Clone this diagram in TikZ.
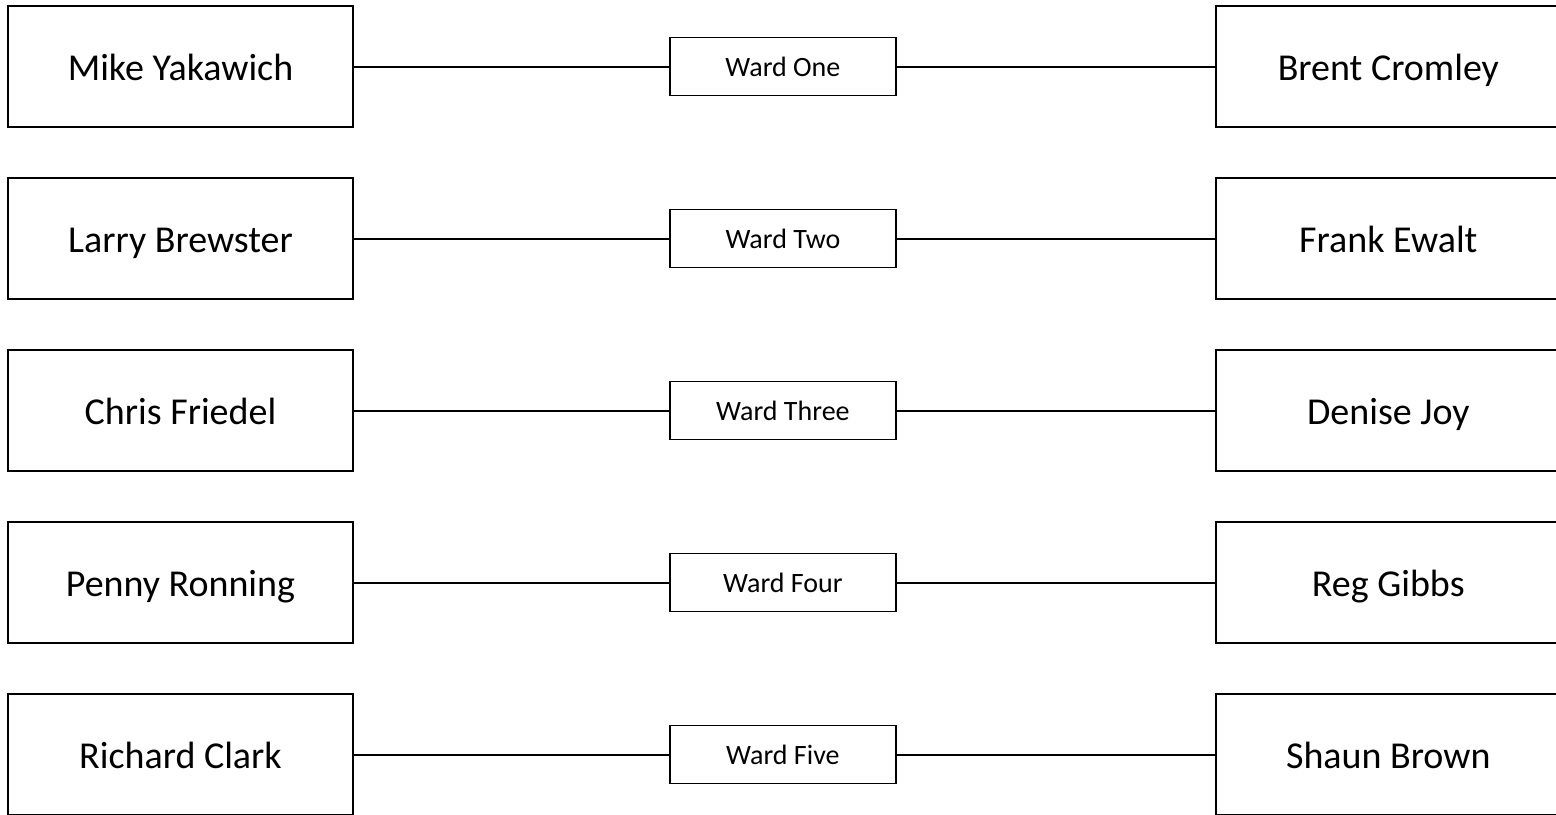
\documentclass[tikz,border=0pt]{standalone}
\usepackage{fontspec}
\setmainfont{Carlito}
\usetikzlibrary{positioning}

\tikzset{
  member/.style={draw, line width=1pt, minimum width=172.5pt, minimum height=60.5pt,
    inner sep=0pt, text height=16pt, text depth=2.5pt,
    font=\fontsize{19}{23}\selectfont},
  ward/.style={draw, line width=0.9pt, minimum width=113pt, minimum height=29pt,
    inner sep=0pt, text height=11pt, text depth=1pt,
    font=\fontsize{14}{17}\selectfont},
  link/.style={line width=1pt}
}

\begin{document}
\begin{tikzpicture}
  \useasboundingbox (0,0) rectangle (778pt,-407pt);

  % left column of members
  \node [member] (l1) at (90.25pt,-33.25pt) {Mike Yakawich};
  \node [member, below=24.5pt of l1] (l2) {Larry Brewster};
  \node [member, below=24.5pt of l2] (l3) {Chris Friedel};
  \node [member, below=24.5pt of l3] (l4) {Penny Ronning};
  \node [member, below=24.5pt of l4] (l5) {Richard Clark};

  % wards
  \node [ward, right=157.5pt of l1] (w1) {Ward One};
  \node [ward, right=157.5pt of l2] (w2) {Ward Two};
  \node [ward, right=157.5pt of l3] (w3) {Ward Three};
  \node [ward, right=157.5pt of l4] (w4) {Ward Four};
  \node [ward, right=157.5pt of l5] (w5) {Ward Five};

  % right column of members
  \node [member, right=159pt of w1] (r1) {Brent Cromley};
  \node [member, right=159pt of w2] (r2) {Frank Ewalt};
  \node [member, right=159pt of w3] (r3) {Denise Joy};
  \node [member, right=159pt of w4] (r4) {Reg Gibbs};
  \node [member, right=159pt of w5] (r5) {Shaun Brown};

  % connectors
  \draw [link] (l1) -- (w1) (w1) -- (r1);
  \draw [link] (l2) -- (w2) (w2) -- (r2);
  \draw [link] (l3) -- (w3) (w3) -- (r3);
  \draw [link] (l4) -- (w4) (w4) -- (r4);
  \draw [link] (l5) -- (w5) (w5) -- (r5);
\end{tikzpicture}
\end{document}
